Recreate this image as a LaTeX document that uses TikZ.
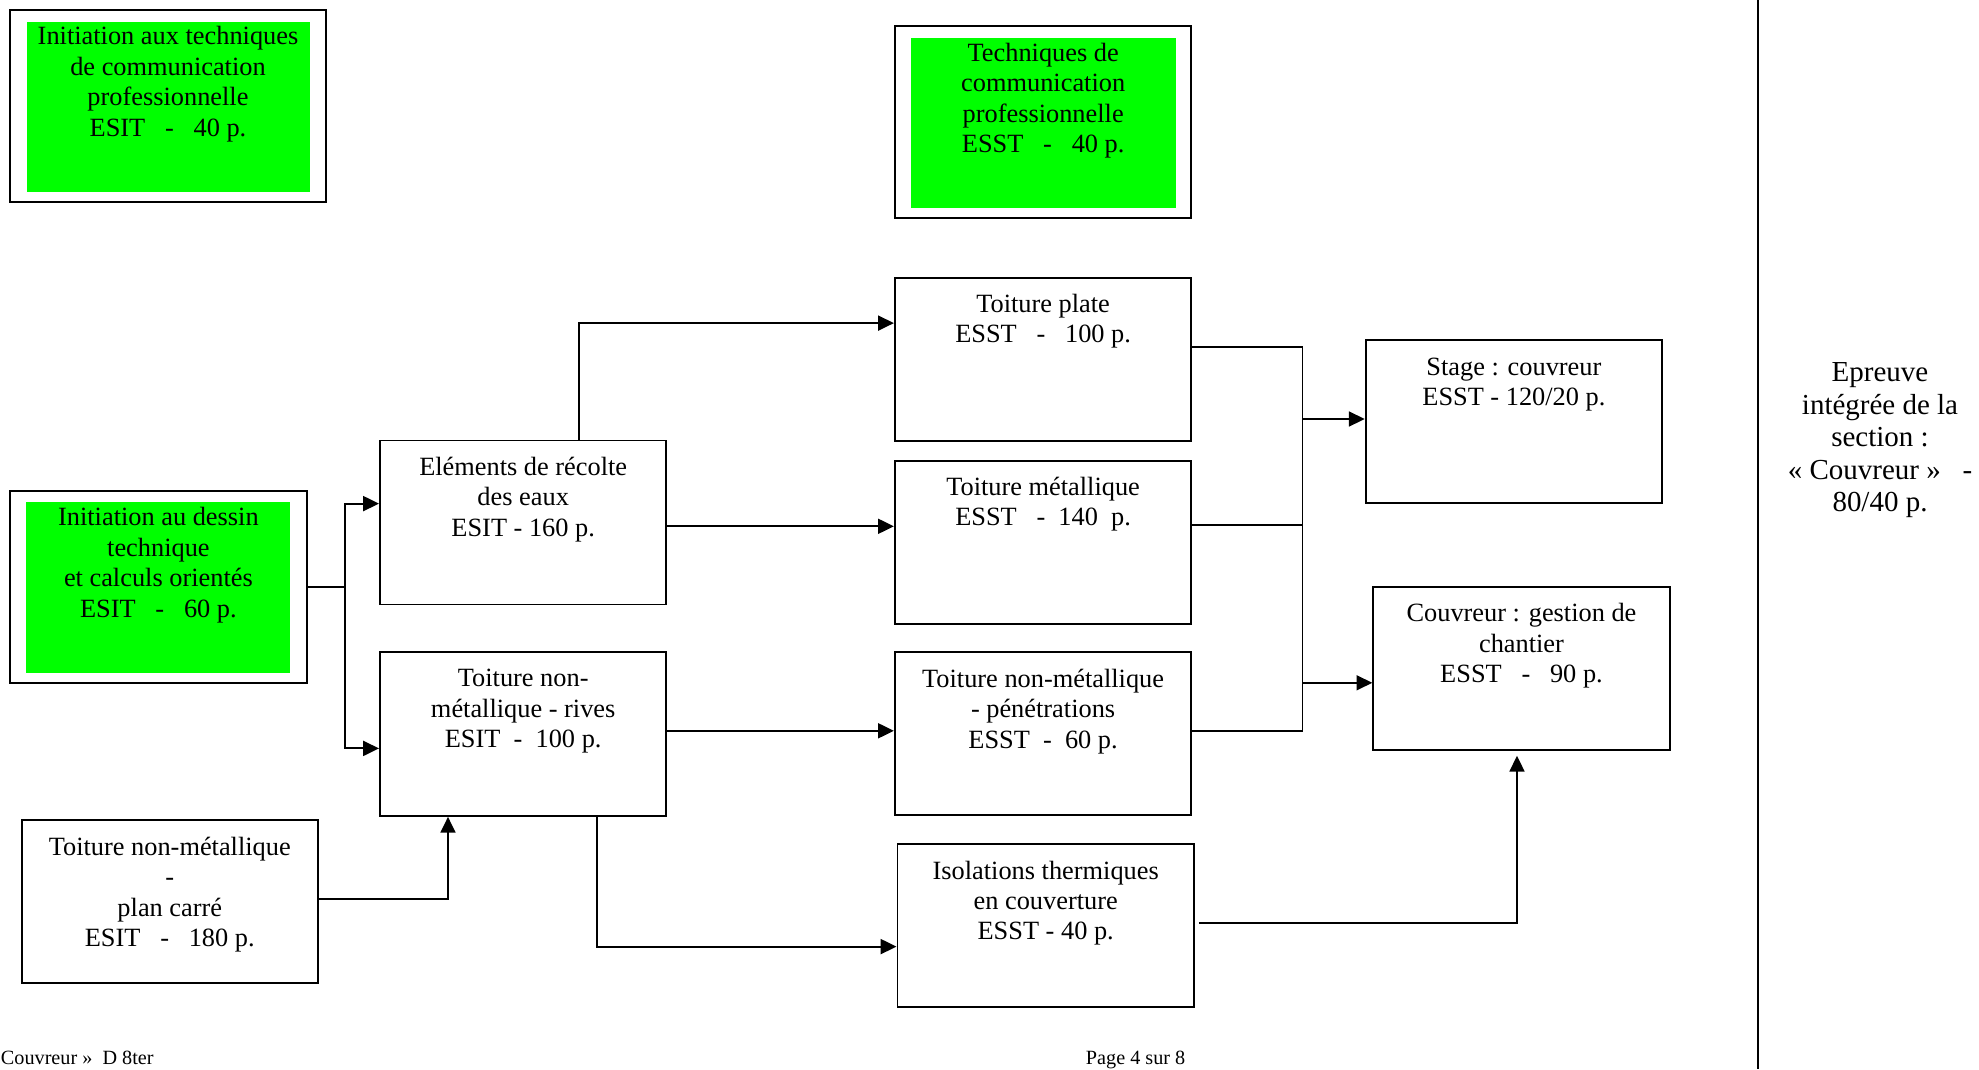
\documentclass[tikz,border=0pt]{standalone}
\usepackage{fontspec}
\setmainfont{Liberation Serif}
\usetikzlibrary{positioning,arrows.meta}
\definecolor{boxgreen}{RGB}{0,255,0}

\tikzset{
  frame/.style={draw, minimum width=5.93cm, minimum height=3.26cm, inner sep=0pt},
  narrowframe/.style={frame, minimum width=5.73cm, minimum height=3.28cm},
  greenfill/.style={fill=boxgreen, minimum width=#1, minimum height=3.41cm, inner sep=0pt},
  txt/.style={align=center, inner sep=0pt, font=\fontsize{15}{17.3}\selectfont},
  epreuve/.style={txt, font=\fontsize{16.5}{18.5}\selectfont},
  foot/.style={inner sep=0pt, font=\fontsize{11.5}{13}\selectfont},
  arr/.style={-{Triangle[length=9pt,width=8.5pt]}},
}

\begin{document}
\begin{tikzpicture}[x=0.02cm, y=-0.02cm, line width=1.1pt]
    \useasboundingbox (0,0) rectangle (1979,1069);

    % Green boxes with a frame round them
    \node[frame, minimum width=6.32cm, minimum height=3.84cm] (comm1) at (168,106) {};
    \node[greenfill=5.68cm] (comm1-bg) at (168.5,106.8) {};
    \node[txt, below=0.274cm of comm1.north] (comm1-txt)
        {\strut Initiation aux techniques\\de communication\\professionnelle\\ESIT~~~-~~~40 p.};

    \node[frame, minimum height=3.84cm] (comm2) at (1043.2,122.4) {};
    \node[greenfill=5.30cm] (comm2-bg) at (1043.5,123) {};
    \node[txt, below=0.274cm of comm2.north] (comm2-txt)
        {\strut Techniques de\\communication\\professionnelle\\ESST~~~-~~~40 p.};

    \node[frame, minimum height=3.84cm] (dessin) at (158.4,586.9) {};
    \node[greenfill=5.28cm] (dessin-bg) at (158.4,587.5) {};
    \node[txt, below=0.274cm of dessin.north] (dessin-txt)
        {\strut Initiation au dessin\\technique\\et calculs orientés\\ESIT~~~-~~~60 p.};

    % ESIT boxes
    \node[narrowframe] (recolte) at (523.2,522.5) {};
    \node[txt, below=0.274cm of recolte.north] (recolte-txt)
        {\strut Eléments de récolte\\des eaux\\ESIT - 160 p.};

    \node[narrowframe] (rives) at (523.2,733.9) {};
    \node[txt, below=0.274cm of rives.north] (rives-txt)
        {\strut Toiture non-\\métallique - rives\\ESIT~~-~~100 p.};

    \node[frame] (carre) at (169.8,901.8) {};
    \node[txt, below=0.274cm of carre.north] (carre-txt)
        {\strut Toiture non-métallique\\-\\plan carré\\ESIT~~~-~~~180 p.};

    % ESST boxes
    \node[frame] (plate) at (1043.1,359.1) {};
    \node[txt, below=0.274cm of plate.north] (plate-txt)
        {\strut Toiture plate\\ESST~~~-~~~100 p.};

    \node[frame] (metal) at (1043.1,542.1) {};
    \node[txt, below=0.274cm of metal.north] (metal-txt)
        {\strut Toiture métallique\\ESST~~~-~~140~~p.};

    \node[frame] (penetr) at (1043.1,733.9) {};
    \node[txt, below=0.274cm of penetr.north] (penetr-txt)
        {\strut Toiture non-métallique\\- pénétrations\\ESST~~-~~60 p.};

    \node[frame] (isol) at (1045.7,925.7) {};
    \node[txt, below=0.274cm of isol.north] (isol-txt)
        {\strut Isolations thermiques\\en couverture\\ESST - 40 p.};

    \node[frame] (stage) at (1513.9,421.6) {};
    \node[txt, below=0.274cm of stage.north] (stage-txt)
        {\strut Stage : couvreur\\ESST - 120/20 p.};

    \node[frame] (gestion) at (1521.5,668.3) {};
    \node[txt, below=0.274cm of gestion.north] (gestion-txt)
        {\strut Couvreur : gestion de\\chantier\\ESST~~~-~~~90 p.};

    % Arrows out of the drawing course
    \coordinate (fork) at (344.6,586.9);
    \draw (dessin.east) -- (fork);
    \draw[arr] (fork) |- (recolte.west |- 0,503.6);
    \draw[arr] (fork) |- (rives.west |- 0,748.4);

    % Arrows between ESIT and ESST
    \draw[arr] (recolte.north -| 579.3,0) |- (plate.west |- 0,323.1);
    \draw[arr] (recolte.east |- 0,526.3) -- (metal.west |- 0,526.3);
    \draw[arr] (rives.east |- 0,730.8) -- (penetr.west |- 0,730.8);
    \draw[arr] (rives.south -| 597,0) |- (isol.west |- 0,946.6);
    \draw[arr] (carre.east |- 0,898.6) -| (rives.south -| 448,0);

    % Collecting line to the last boxes
    \coordinate (bus-top) at (1302.5,347.1);
    \coordinate (bus-bot) at (1302.5,730.8);
    \draw (plate.east |- bus-top) -- (bus-top) -- (bus-bot) -- (penetr.east |- bus-bot);
    \draw (metal.east |- 0,525) -- (bus-top |- 0,525);
    \draw[arr] (bus-top |- 0,419) -- (stage.west |- 0,419);
    \draw[arr] (bus-top |- 0,682.8) -- (gestion.west |- 0,682.8);
    \draw[arr, shorten <=0.08cm, shorten >=0.1cm] (isol.east |- 0,922.6) -| (gestion.south -| 1517,0);

    % Right column
    \draw (1758,0) -- (1758,1069);
    \node[epreuve, anchor=north] (epreuve) at (1880,358)
        {\strut Epreuve\\intégrée de la\\section :\\« Couvreur »~~~-\\80/40 p.};

    % Footer
    \node[foot, anchor=base west] (foot-left) at (0,1064) {Couvreur »~~D 8ter};
    \node[foot, anchor=base west] (foot-page) at (1085,1064) {Page 4 sur 8};
\end{tikzpicture}
\end{document}
